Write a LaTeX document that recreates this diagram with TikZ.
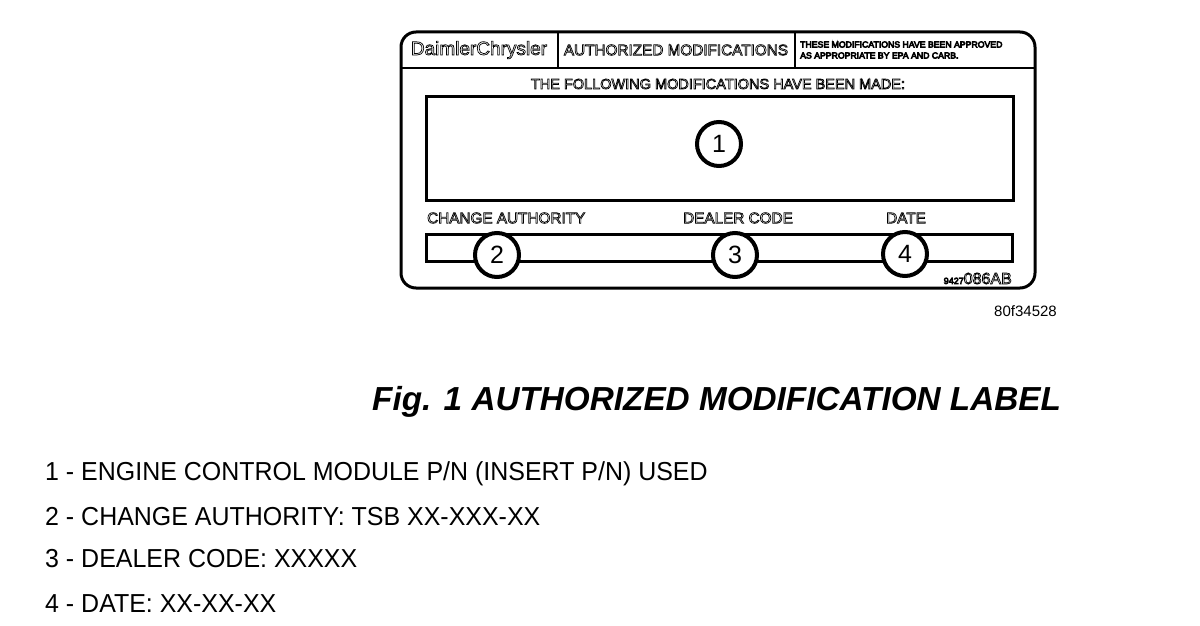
\documentclass[tikz,border=0pt]{standalone}
\usepackage{fontspec}
\setmainfont{Liberation Sans}
\newfontfamily\narrowfont[FakeStretch=0.96]{Liberation Sans}
\newcommand{\hollow}[1]{\special{pdf:literal direct 1 Tr 0.7 w}#1\special{pdf:literal direct 0 Tr}}
\usetikzlibrary{positioning}

\begin{document}
\begin{tikzpicture}[x=1pt,y=-1pt]
\tikzstyle{num}=[circle,draw=black,fill=white,line width=4pt,minimum size=44pt,inner sep=0pt,font=\fontsize{25}{25}\selectfont]
\tikzstyle{lbl}=[inner sep=0pt,font=\fontsize{15.3}{15.3}\selectfont]
\tikzstyle{item}=[anchor=base west,inner sep=0pt,font=\narrowfont\fontsize{26}{26}\selectfont]
\useasboundingbox (0,0) rectangle (1200,626);
% label outline
\draw[line width=3pt,rounded corners=15pt] (401,32) rectangle (1035,288);
\draw[line width=2.5pt] (401,68) -- (1035,68);
\draw[line width=2.5pt] (558,32) -- (558,68);
\draw[line width=2.5pt] (795,32) -- (795,68);
\node[lbl,font=\fontsize{19}{19}\selectfont] (maker) at (479,50) {\hollow{DaimlerChrysler}};
\node[lbl] (head) at (676,50) {\hollow{AUTHORIZED MODIFICATIONS}};
\node[lbl,anchor=west,align=left,font=\fontsize{8.7}{11}\selectfont] (epa) at (800,50) {\hollow{THESE MODIFICATIONS HAVE BEEN APPROVED}\\\hollow{AS APPROPRIATE BY EPA AND CARB.}};
\node[lbl,font=\fontsize{14.5}{14.5}\selectfont] (made) at (718,84) {\hollow{THE FOLLOWING MODIFICATIONS HAVE BEEN MADE:}};
% boxes
\draw[line width=3pt] (426,97) rectangle (1013,200);
\draw[line width=3pt] (426,234) rectangle (1012,261);
\node[lbl,anchor=west] (auth) at (427,218) {\hollow{CHANGE AUTHORITY}};
\node[lbl] (dealer) at (738,218) {\hollow{DEALER CODE}};
\node[lbl] (date) at (906,218) {\hollow{DATE}};
\node[num] (1) at (719,144) {1};
\node[num] (2) at (497,255) {2};
\node[num] (3) at (735,255) {3};
\node[num] (4) at (905,254) {4};
\node[lbl,anchor=base east] (code) at (1012,284) {\hollow{{\fontsize{9}{9}\selectfont 9427}{\fontsize{16}{16}\selectfont 086AB}}};
\node[lbl,anchor=base east,font=\fontsize{15}{15}\selectfont] (art) at (1057,316) {80f34528};
% caption
\node[anchor=base west,inner sep=0pt,font=\fontsize{33.3}{33.3}\selectfont\bfseries\itshape] (fig) at (372,410) {Fig. 1 AUTHORIZED MODIFICATION LABEL};
\node[item] (i1) at (45,480) {1 - ENGINE CONTROL MODULE P/N (INSERT P/N) USED};
\node[item] (i2) at (45,525) {2 - CHANGE AUTHORITY: TSB XX-XXX-XX};
\node[item] (i3) at (45,567) {3 - DEALER CODE: XXXXX};
\node[item] (i4) at (45,612) {4 - DATE: XX-XX-XX};
\end{tikzpicture}
\end{document}
